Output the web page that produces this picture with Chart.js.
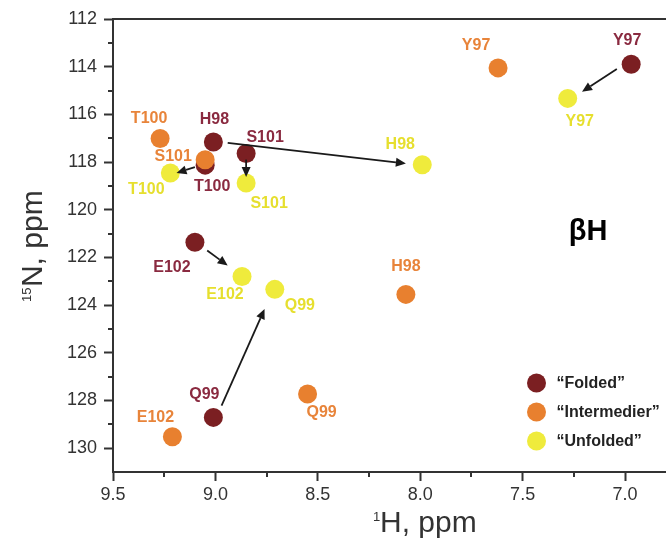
<!DOCTYPE html>
<html>
<head>
<meta charset="utf-8">
<script src="https://cdn.jsdelivr.net/npm/chart.js@4/dist/chart.umd.min.js"></script>
<style>
  html, body { margin: 0; padding: 0; background: #fff; }
  #c { display: block; }
</style>
</head>
<body>
<canvas id="c" width="666" height="542"></canvas>
<script>
// ---------- data ----------
const residues = ['Y97', 'H98', 'Q99', 'T100', 'S101', 'E102'];

const foldedH = [6.97, 9.01, 9.01, 9.05, 8.85, 9.10];
const foldedN = [113.90, 117.16, 128.71, 118.13, 117.64, 121.36];

const intermH = [7.62, 8.07, 8.55, 9.27, 9.05, 9.21];
const intermN = [114.05, 123.55, 127.73, 117.01, 117.90, 129.52];

const unfoldH = [7.28, 7.99, 8.71, 9.22, 8.85, 8.87];
const unfoldN = [115.33, 118.11, 123.34, 118.46, 118.88, 122.80];

const seriesNames = ['\u201CFolded\u201D', '\u201CIntermedier\u201D', '\u201CUnfolded\u201D'];

// arrows (from -> to), in ppm
const arrowRes   = ['Y97', 'H98', 'T100', 'S101', 'E102', 'Q99'];
const arrowFromH = [7.04, 8.94, 9.10, 8.85, 9.04, 8.97];
const arrowFromN = [114.10, 117.20, 118.21, 117.90, 121.71, 128.22];
const arrowToH   = [7.21, 8.07, 9.19, 8.85, 8.94, 8.76];
const arrowToN   = [115.05, 118.06, 118.46, 118.63, 122.34, 124.16];

const xTickLabels = [9.5, 9.0, 8.5, 8.0, 7.5, 7.0];
const xMinorTicks = [9.25, 8.75, 8.25, 7.75, 7.25];
const yTickLabels = [112, 114, 116, 118, 120, 122, 124, 126, 128, 130];
const yMinorTicks = [113, 115, 117, 119, 121, 123, 125, 127, 129];

// ---------- styles ----------
const pointColors = ['#7b1f22', '#e8802f', '#efeb3c'];
const labelColors = ['#8a2a40', '#e8843a', '#e6df2e'];
// label offsets in px per series, per residue
const labelOffsets = [
  { Y97: [-4, -24], H98: [1, -22], Q99: [-9, -23], T100: [7, 21], S101: [19, -16], E102: [-23, 25] },
  { Y97: [-22, -22], H98: [0, -28], Q99: [14, 19], T100: [-11, -20], S101: [-32, -3], E102: [-17, -19] },
  { Y97: [12, 23], H98: [-22, -20], Q99: [25, 16], T100: [-24, 17], S101: [23, 21], E102: [-17, 18] }
];

const FONT = '"Liberation Sans", Arial, sans-serif';
const AXIS = '#333333';

function pts(h, n) { return h.map((v, i) => ({ x: v, y: n[i], r: residues[i] })); }

const datasets = [
  { label: seriesNames[0], data: pts(foldedH, foldedN), backgroundColor: pointColors[0], order: 2 },
  { label: seriesNames[1], data: pts(intermH, intermN), backgroundColor: pointColors[1], order: 1 },
  { label: seriesNames[2], data: pts(unfoldH, unfoldN), backgroundColor: pointColors[2], order: 0 }
].map(d => Object.assign(d, { pointRadius: 9.5, pointHoverRadius: 9.5, borderWidth: 0, pointBorderWidth: 0 }));

const decor = {
  id: 'decor',
  afterDraw(chart) {
    const ctx = chart.ctx, ca = chart.chartArea;
    const xs = chart.scales.x, ys = chart.scales.y;
    ctx.save();
    // top frame line
    ctx.strokeStyle = AXIS; ctx.lineWidth = 2;
    ctx.beginPath(); ctx.moveTo(ca.left - 1, ca.top); ctx.lineTo(ca.right, ca.top); ctx.stroke();
    // minor ticks
    ctx.lineWidth = 2;
    xMinorTicks.forEach(v => {
      const px = Math.round(xs.getPixelForValue(v));
      ctx.beginPath(); ctx.moveTo(px, ca.bottom); ctx.lineTo(px, ca.bottom + 5); ctx.stroke();
    });
    yMinorTicks.forEach(v => {
      const py = Math.round(ys.getPixelForValue(v));
      ctx.beginPath(); ctx.moveTo(ca.left, py); ctx.lineTo(ca.left - 5, py); ctx.stroke();
    });

    // arrows
    ctx.strokeStyle = '#1a1a1a'; ctx.fillStyle = '#1a1a1a'; ctx.lineWidth = 1.8;
    arrowRes.forEach((r, i) => {
      const x1 = xs.getPixelForValue(arrowFromH[i]), y1 = ys.getPixelForValue(arrowFromN[i]);
      const x2 = xs.getPixelForValue(arrowToH[i]), y2 = ys.getPixelForValue(arrowToN[i]);
      const a = Math.atan2(y2 - y1, x2 - x1);
      const hl = 10, hw = 4.5;
      const bx = x2 - hl * Math.cos(a), by = y2 - hl * Math.sin(a);
      ctx.beginPath(); ctx.moveTo(x1, y1); ctx.lineTo(bx, by); ctx.stroke();
      ctx.beginPath();
      ctx.moveTo(x2, y2);
      ctx.lineTo(bx + hw * Math.sin(a), by - hw * Math.cos(a));
      ctx.lineTo(bx - hw * Math.sin(a), by + hw * Math.cos(a));
      ctx.closePath(); ctx.fill();
    });

    // point labels
    ctx.font = 'bold 16px ' + FONT;
    ctx.textAlign = 'center'; ctx.textBaseline = 'middle';
    chart.data.datasets.forEach((ds, di) => {
      const meta = chart.getDatasetMeta(di);
      ctx.fillStyle = labelColors[di];
      ds.data.forEach((p, i) => {
        const el = meta.data[i];
        const off = labelOffsets[di][p.r] || [0, -22];
        ctx.fillText(p.r, el.x + off[0], el.y + off[1]);
      });
    });

    // legend
    const lx = ca.left + 423.5, ly0 = ca.top + 364, lstep = 29;
    chart.data.datasets.forEach((ds, di) => {
      const y = ly0 + di * lstep;
      ctx.fillStyle = ds.backgroundColor;
      ctx.beginPath(); ctx.arc(lx, y, 9.5, 0, Math.PI * 2); ctx.fill();
      ctx.fillStyle = '#222';
      ctx.font = 'bold 16px ' + FONT;
      ctx.textAlign = 'left'; ctx.textBaseline = 'middle';
      ctx.fillText(ds.label, lx + 20, y + 1);
    });

    // panel tag
    ctx.fillStyle = '#000';
    ctx.font = 'bold 29px ' + FONT;
    ctx.textAlign = 'center'; ctx.textBaseline = 'alphabetic';
    ctx.fillText('\u03B2H', 588, 240);

    // axis titles
    ctx.fillStyle = '#333';
    ctx.textAlign = 'left'; ctx.textBaseline = 'alphabetic';
    ctx.font = '13px ' + FONT;
    ctx.fillText('1', 373, 521);
    ctx.font = '30px ' + FONT;
    ctx.fillText('H, ppm', 380, 531.5);

    ctx.translate(41.7, 302);
    ctx.rotate(-Math.PI / 2);
    ctx.font = '13px ' + FONT;
    ctx.fillText('15', 0, -11);
    const w15 = ctx.measureText('15').width;
    ctx.font = '30px ' + FONT;
    ctx.fillText('N, ppm', w15 + 0.5, 0);
    ctx.restore();
  }
};

new Chart(document.getElementById('c'), {
  type: 'scatter',
  data: { datasets },
  options: {
    responsive: false,
    animation: false,
    devicePixelRatio: 1,
    layout: { autoPadding: false, padding: { top: 19, right: 0, left: 0, bottom: 0 } },
    plugins: { legend: { display: false }, tooltip: { enabled: false } },
    events: [],
    scales: {
      x: {
        type: 'linear', position: 'bottom', reverse: true, min: 6.80, max: 9.5,
        afterBuildTicks: s => { s.ticks = xTickLabels.map(v => ({ value: v })); },
        afterFit: s => { s.height = 70; },
        grid: { display: true, drawOnChartArea: false, drawTicks: true, tickLength: 9, tickWidth: 2, tickColor: AXIS },
        border: { display: true, color: AXIS, width: 2 },
        ticks: { color: '#333', font: { family: FONT, size: 18 }, padding: 3, maxRotation: 0,
                 callback: v => Number(v).toFixed(1) }
      },
      y: {
        type: 'linear', position: 'left', reverse: true, min: 112, max: 131,
        afterBuildTicks: s => { s.ticks = yTickLabels.map(v => ({ value: v })); },
        afterFit: s => { s.width = 113; },
        grid: { display: true, drawOnChartArea: false, drawTicks: true, tickLength: 9, tickWidth: 2, tickColor: AXIS },
        border: { display: true, color: AXIS, width: 2 },
        ticks: { color: '#333', font: { family: FONT, size: 18 }, padding: 7, callback: v => String(v) }
      }
    }
  },
  plugins: [decor]
});
</script>
</body>
</html>
